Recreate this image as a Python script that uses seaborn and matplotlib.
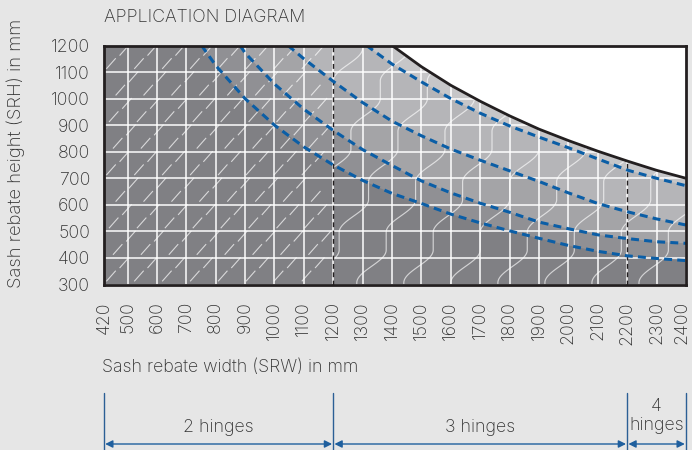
import numpy as np
import pandas as pd
import matplotlib
matplotlib.use("Agg")
import matplotlib.pyplot as plt
import matplotlib.transforms as mtransforms
from matplotlib.collections import LineCollection
from matplotlib.patches import Polygon
import seaborn as sns

# ---- data -------------------------------------------------------------
srw_ticks = [420, 500, 600, 700, 800, 900, 1000, 1100, 1200, 1300, 1400,
             1500, 1600, 1700, 1800, 1900, 2000, 2100, 2200, 2300, 2400]
srh_ticks = [300, 400, 500, 600, 700, 800, 900, 1000, 1100, 1200]

# outer application limit (solid line)
limit_srw = [1400, 1500, 1600, 1700, 1800, 1900, 2000, 2100, 2200, 2300, 2400]
limit_srh = [1200, 1120, 1050, 990, 935, 885, 842, 802, 765, 730, 700]

# weight classes (dashed lines), from lowest to highest
c1_srw = [752, 800, 900, 1000, 1100, 1200, 1300, 1400, 1500, 1600, 1700,
          1800, 1900, 2000, 2100, 2200, 2300, 2400]
c1_srh = [1200, 1125, 1000, 900, 818, 750, 692, 643, 605, 565, 532,
          502, 474, 447, 425, 408, 398, 390]

c2_srw = [883, 900, 1000, 1100, 1200, 1300, 1400, 1500, 1600, 1700, 1800,
          1900, 2000, 2100, 2200, 2300, 2400]
c2_srh = [1200, 1172, 1055, 960, 880, 808, 748, 690, 645, 606, 572,
          535, 510, 487, 473, 461, 455]

c3_srw = [1046, 1100, 1200, 1300, 1400, 1500, 1600, 1700, 1800, 1900, 2000,
          2100, 2200, 2300, 2400]
c3_srh = [1200, 1150, 1065, 985, 915, 860, 810, 768, 728, 688, 645,
          605, 574, 547, 524]

c4_srw = [1313, 1400, 1500, 1600, 1700, 1800, 1900, 2000, 2100, 2200, 2300, 2400]
c4_srh = [1200, 1130, 1063, 1000, 945, 897, 855, 815, 773, 731, 700, 672]

hinge_bounds = [420, 1200, 2200, 2400]
hinge_labels = ["2 hinges", "3 hinges", "4\nhinges"]

# ---- style ------------------------------------------------------------
sns.set_theme(style="white")
plt.rcParams["font.family"] = ["Inter", "DejaVu Sans"]
plt.rcParams["font.weight"] = "light"

BG = "#e6e6e6"
TXT = "#333333"
BLUE = "#0b5ea6"
DARK = "#231f20"
FS = 12.8
band_colors = ["#c6c6c8", "#b5b5b8", "#a4a4a7", "#909094", "#808084"]

fig, ax = plt.subplots(figsize=(6.92, 4.5), dpi=100)
fig.patch.set_facecolor(BG)
fig.subplots_adjust(left=104 / 692, right=686 / 692,
                    top=1 - 45.5 / 450, bottom=1 - 284.5 / 450)
ax.set_facecolor("white")
ax.set_xlim(srw_ticks[0], srw_ticks[-1])
ax.set_ylim(srh_ticks[0], srh_ticks[-1])

x0, x1 = srw_ticks[0], srw_ticks[-1]
y0, y1 = srh_ticks[0], srh_ticks[-1]


def region(xs, ys):
    """Polygon below a curve that starts on the top edge."""
    px = [x0, x0] + list(xs) + [x1]
    py = [y0, y1] + list(ys) + [y0]
    return px, py


# stacked shaded bands, lightest (outer limit) first
curves = [(limit_srw, limit_srh), (c4_srw, c4_srh), (c3_srw, c3_srh),
          (c2_srw, c2_srh), (c1_srw, c1_srh)]
for (xs, ys), col in zip(curves, band_colors):
    px, py = region(xs, ys)
    ax.fill(px, py, color=col, lw=0, zorder=1)

# grid
ax.set_xticks(srw_ticks)
ax.set_xticklabels([str(v) for v in srw_ticks], rotation=90)
ax.set_yticks(srh_ticks)
ax.set_yticklabels([str(v) for v in srh_ticks])
ax.set_axisbelow("line")
ax.grid(True, color="white", lw=1.2, alpha=0.9)
ax.tick_params(length=0, labelsize=FS, labelcolor=TXT)
ax.tick_params(axis="x", pad=12)
ax.tick_params(axis="y", pad=10)
# keep the last width label inside the canvas
last = ax.get_xticklabels()[-1]
last.set_transform(last.get_transform() +
                   mtransforms.ScaledTranslation(-4 / 100, 0, fig.dpi_scale_trans))

# texture: short slashes in the two-hinge zone
slash_segs = []
offsets = [0, 50, 25, 75, 10, 60, 35, 85]
row = 0
yy = y0 + 12
while yy < y1 - 20:
    off = offsets[row % len(offsets)]
    xx = x0 + 8 + off * 0.9
    while xx + 34 < hinge_bounds[1] - 4:
        slash_segs.append([(xx, yy), (xx + 32, yy + 40)])
        xx += 95
    yy += 50
    row += 1
ax.add_collection(LineCollection(slash_segs, colors="white", linewidths=0.8,
                                 alpha=0.7, zorder=1.8))

# texture: wavy staircase lines in the three/four-hinge zone
clip_x = [hinge_bounds[1], hinge_bounds[1]] + limit_srw + [x1]
clip_y = [y0, y1] + limit_srh + [y0]
clip_poly = Polygon(np.column_stack([clip_x, clip_y]), closed=True,
                    transform=ax.transData)
t = np.linspace(0, 6, 1200)
frac = t - np.floor(t)
v = np.clip((frac - 0.35) / 0.65, 0, 1)
stair = np.floor(t) + (1 - np.cos(np.pi * v)) / 2
step_w, step_h = 100, 190
wave_segs = []
start = 480
while start < x1 + 50:
    wx = start + step_w * stair
    wy = y0 - 60 + step_h * t
    wave_segs.append(np.column_stack([wx, wy]))
    start += 160
waves = LineCollection(wave_segs, colors="white", linewidths=0.85,
                       alpha=0.65, zorder=1.8)
ax.add_collection(waves)
waves.set_clip_path(clip_poly)

# hinge boundaries inside the diagram
top_2200 = np.interp(hinge_bounds[2], limit_srw, limit_srh)
ax.plot([hinge_bounds[1]] * 2, [y0, y1], color=DARK, lw=1.0,
        linestyle=(0, (3.5, 2.5)), zorder=3)
ax.plot([hinge_bounds[2]] * 2, [y0, top_2200], color=DARK, lw=1.0,
        linestyle=(0, (3.5, 2.5)), zorder=3)

# dashed weight-class curves
for xs, ys in curves[1:]:
    sns.lineplot(x=xs, y=ys, ax=ax, color=BLUE, linewidth=2.2,
                 linestyle=(0, (2.6, 1.7)), estimator=None, zorder=4)

# outer limit
sns.lineplot(x=limit_srw, y=limit_srh, ax=ax, color=DARK, linewidth=2.0,
             estimator=None, zorder=5)

for s in ax.spines.values():
    s.set_visible(True)
    s.set_color(DARK)
    s.set_linewidth(2.0)
    s.set_zorder(6)
ax.set_xlabel("")
ax.set_ylabel("")

# titles and axis captions
fig.text(104 / 692, 1 - 18 / 450, "APPLICATION DIAGRAM", ha="left",
         va="center", fontsize=FS, color=TXT)
fig.text(16 / 692, 1 - 153 / 450, "Sash rebate height (SRH) in mm",
         rotation=90, ha="center", va="center", fontsize=13.3, color=TXT)
fig.text(102 / 692, 1 - 367 / 450, "Sash rebate width (SRW) in mm",
         ha="left", va="center", fontsize=FS, color=TXT)

# hinge count ranges below the diagram
trans = mtransforms.blended_transform_factory(ax.transData, fig.transFigure)
for b in hinge_bounds:
    ax.plot([b, b], [1 - 393 / 450, 0], color="#2b5f95", lw=1.0,
            transform=trans, clip_on=False)
ya = 1 - 444 / 450
for a, b, lab in zip(hinge_bounds[:-1], hinge_bounds[1:], hinge_labels):
    ax.annotate("", xy=(b - 4, ya), xytext=(a + 4, ya), xycoords=trans,
                textcoords=trans, annotation_clip=False,
                arrowprops=dict(arrowstyle="<|-|>", color="#1f5f9e", lw=1.0,
                                mutation_scale=11, shrinkA=0, shrinkB=0))
    ym = 1 - 427 / 450 if "\n" not in lab else 1 - 416 / 450
    ax.text((a + b) / 2, ym, lab, transform=trans, ha="center", va="center",
            fontsize=FS, color=TXT, linespacing=1.2)

fig.savefig("out.png", dpi=100, facecolor=BG)
